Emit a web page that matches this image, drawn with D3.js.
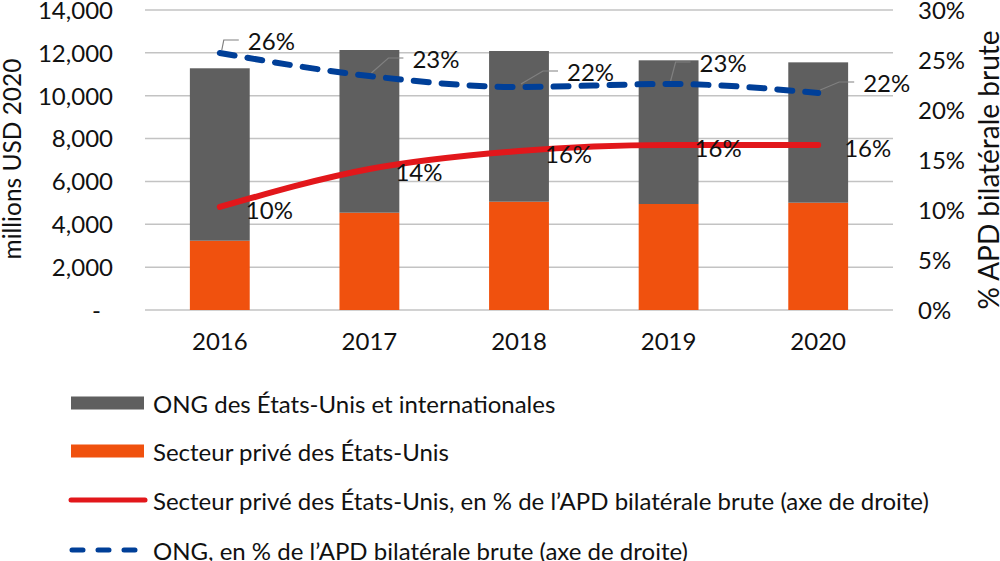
<!DOCTYPE html>
<html>
<head>
<meta charset="utf-8">
<script src="https://cdn.jsdelivr.net/npm/d3@7"></script>
<style>
  html, body { margin: 0; padding: 0; background: #fff; }
  svg { display: block; font-family: Lato, "Open Sans", sans-serif; }
</style>
</head>
<body>
<svg id="chart" width="1000" height="561"></svg>
<script>
// ---- data ----
const years = ["2016", "2017", "2018", "2019", "2020"];
const ngoValues = [8046, 7592, 7033, 6705, 6549];        // ONG des États-Unis et internationales
const privateValues = [3234, 4541, 5054, 4947, 5008];    // Secteur privé des États-Unis
const privatePct = [0.103, 0.141, 0.159, 0.165, 0.165];  // Secteur privé, % APD
const ngoPct = [0.257, 0.234, 0.223, 0.226, 0.217];      // ONG, % APD
const privatePctLabels = ["10%", "14%", "16%", "16%", "16%"];
const ngoPctLabels = ["26%", "23%", "22%", "23%", "22%"];
const leftTicks = [0, 2000, 4000, 6000, 8000, 10000, 12000, 14000];
const rightTicks = [0, 0.05, 0.10, 0.15, 0.20, 0.25, 0.30];
const legendLabels = [
  "ONG des États-Unis et internationales",
  "Secteur privé des États-Unis",
  "Secteur privé des États-Unis, en % de l’APD bilatérale brute (axe de droite)",
  "ONG, en % de l’APD bilatérale brute (axe de droite)"
];

// ---- styles / layout ----
const colors = { ngo: "#5f5f5f", priv: "#f0510e", red: "#e2171b", blue: "#003f98", grid: "#c3c3c3", text: "#111" };
const fontSize = 24;
const plot = { left: 145, right: 893, top: 10, bottom: 310 };
// manual label placement for the dashed series (offsets from point)
const ngoLabelOffsets = [[28, -13], [43, -18], [48, -16], [31, -22], [45, -11]];

const svg = d3.select("#chart");

const x = d3.scaleBand().domain(years).range([plot.left, plot.right])
  .paddingInner(0.6).paddingOuter(0.3);
const yL = d3.scaleLinear().domain([0, 14000]).range([plot.bottom, plot.top]);
const yR = d3.scaleLinear().domain([0, 0.30]).range([plot.bottom, plot.top]);

// gridlines
svg.append("g").selectAll("line").data(leftTicks).join("line")
  .attr("x1", plot.left).attr("x2", plot.right)
  .attr("y1", d => yL(d)).attr("y2", d => yL(d))
  .attr("stroke", colors.grid).attr("stroke-width", 1.5);

// left axis
const fmt = d3.format(",");
const axL = d3.axisLeft(yL).tickValues(leftTicks).tickSize(0).tickPadding(0)
  .tickFormat(d => d === 0 ? "-" : fmt(d));
const gL = svg.append("g").attr("transform", "translate(113,0)").call(axL);
gL.select(".domain").remove();
gL.selectAll("text").attr("font-size", fontSize).attr("font-family", "Lato").attr("fill", colors.text)
  .attr("dy", "0.35em").attr("x", d => d === 0 ? -12 : 0);

// right axis
const axR = d3.axisRight(yR).tickValues(rightTicks).tickSize(0).tickPadding(0)
  .tickFormat(d3.format(".0%"));
const gR = svg.append("g").attr("transform", "translate(918,0)").call(axR);
gR.select(".domain").remove();
gR.selectAll("text").attr("font-size", fontSize).attr("font-family", "Lato").attr("fill", colors.text)
  .attr("dy", "0.35em");

// bottom axis labels
const axB = d3.axisBottom(x).tickSize(0).tickPadding(0);
const gB = svg.append("g").attr("transform", `translate(0,${plot.bottom})`).call(axB);
gB.select(".domain").remove();
gB.selectAll("text").attr("font-size", fontSize).attr("font-family", "Lato").attr("fill", colors.text)
  .attr("y", 32).attr("dy", "0.35em");

// axis titles
svg.append("text").attr("transform", "translate(21,159) rotate(-90)")
  .attr("text-anchor", "middle")
  .attr("font-size", 24.5).attr("fill", colors.text).text("millions USD 2020");
svg.append("text").attr("transform", "translate(999,170) rotate(-90)")
  .attr("text-anchor", "middle")
  .attr("font-size", 28).attr("fill", colors.text).text("% APD bilatérale brute");

// stacked bars
const rows = years.map((yr, i) => ({ year: yr, priv: privateValues[i], ngo: ngoValues[i] }));
const stack = d3.stack().keys(["priv", "ngo"])(rows);
const barColors = { priv: colors.priv, ngo: colors.ngo };
svg.append("g").selectAll("g").data(stack).join("g")
  .attr("fill", s => barColors[s.key])
  .selectAll("rect").data(s => s).join("rect")
  .attr("x", d => x(d.data.year)).attr("width", x.bandwidth())
  .attr("y", d => yL(d[1])).attr("height", d => yL(d[0]) - yL(d[1]));

const cx = yr => x(yr) + x.bandwidth() / 2;

// leader lines for dashed series labels
const leaders = svg.append("g").attr("fill", "none").attr("stroke", "#808080").attr("stroke-width", 1.2);
years.forEach((yr, i) => {
  const px = cx(yr), py = yR(ngoPct[i]);
  const lx = px + ngoLabelOffsets[i][0], ly = py + ngoLabelOffsets[i][1];
  leaders.append("polyline")
    .attr("points", `${px + 2},${py - 3} ${lx - 24},${ly} ${lx - 9},${ly}`);
});

// lines
const lineGen = yScale => d3.line().x((d, i) => cx(years[i])).y(d => yScale(d)).curve(d3.curveMonotoneX);
svg.append("path").datum(privatePct).attr("d", lineGen(yR))
  .attr("fill", "none").attr("stroke", colors.red).attr("stroke-width", 6)
  .attr("stroke-linecap", "round").attr("stroke-linejoin", "round");
svg.append("path").datum(ngoPct).attr("d", lineGen(yR))
  .attr("fill", "none").attr("stroke", colors.blue).attr("stroke-width", 6)
  .attr("stroke-dasharray", "15,13").attr("stroke-linecap", "round");

// data labels
svg.append("g").selectAll("text").data(privatePct).join("text")
  .attr("x", (d, i) => cx(years[i]) + 26).attr("y", d => yR(d) + 2)
  .attr("dominant-baseline", "central").attr("font-size", fontSize).attr("fill", colors.text)
  .text((d, i) => privatePctLabels[i]);
svg.append("g").selectAll("text").data(ngoPct).join("text")
  .attr("x", (d, i) => cx(years[i]) + ngoLabelOffsets[i][0])
  .attr("y", (d, i) => yR(d) + ngoLabelOffsets[i][1])
  .attr("dominant-baseline", "central").attr("font-size", fontSize).attr("fill", colors.text)
  .text((d, i) => ngoPctLabels[i]);

// legend
const legY = [403, 451, 500, 550];
const leg = svg.append("g");
legendLabels.forEach((lab, i) => {
  const y0 = legY[i];
  if (i === 0 || i === 1) {
    leg.append("rect").attr("x", 71).attr("y", y0 - 6.5).attr("width", 73).attr("height", 13)
      .attr("fill", i === 0 ? colors.ngo : colors.priv);
  } else if (i === 2) {
    leg.append("line").attr("x1", 71).attr("x2", 145).attr("y1", y0).attr("y2", y0)
      .attr("stroke", colors.red).attr("stroke-width", 5).attr("stroke-linecap", "round");
  } else {
    leg.append("line").attr("x1", 72).attr("x2", 140).attr("y1", y0).attr("y2", y0)
      .attr("stroke", colors.blue).attr("stroke-width", 5).attr("stroke-linecap", "round")
      .attr("stroke-dasharray", "11,15");
  }
  leg.append("text").attr("x", 153).attr("y", y0).attr("dominant-baseline", "central")
    .attr("font-size", fontSize).attr("fill", colors.text).text(lab);
});
</script>
</body>
</html>
